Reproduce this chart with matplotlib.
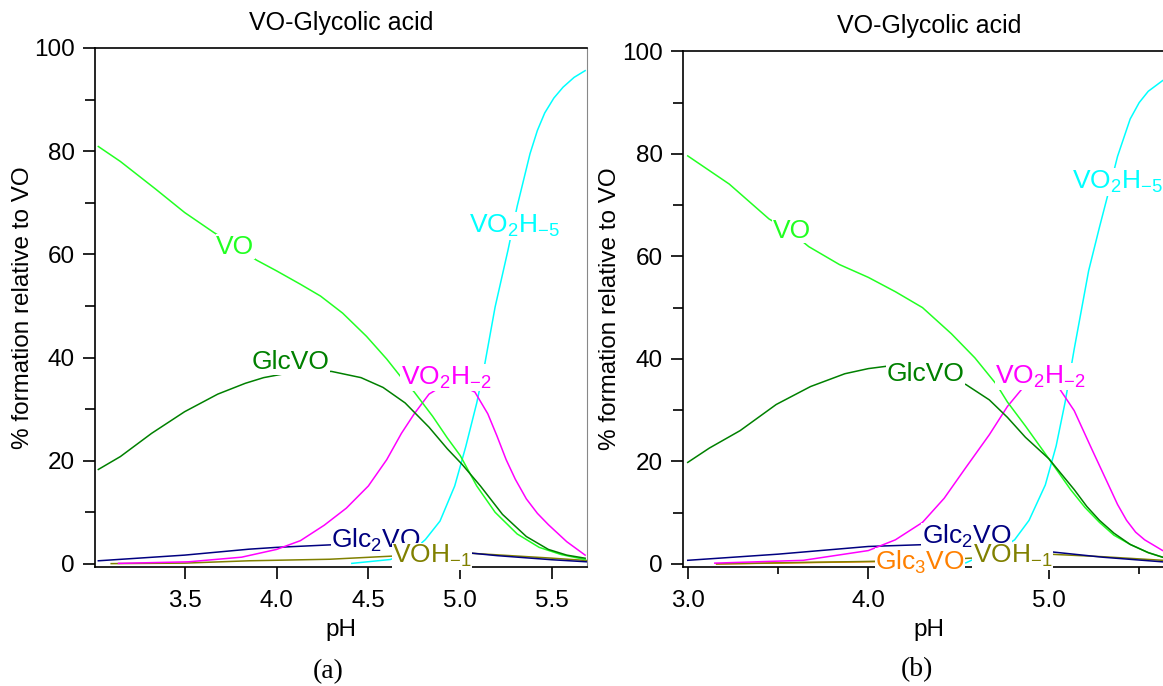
import numpy as np
import matplotlib
matplotlib.use('Agg')
import matplotlib.pyplot as plt
from matplotlib.ticker import MultipleLocator, FormatStrFormatter

plt.rcParams['font.family'] = ['Liberation Sans', 'DejaVu Sans']
plt.rcParams['mathtext.fontset'] = 'custom'
plt.rcParams['mathtext.rm'] = 'Liberation Sans'
plt.rcParams['mathtext.it'] = 'Liberation Sans'

C_VO = '#22ff22'
C_GLCVO = '#008000'
C_VO2H2 = '#ff00ff'
C_VO2H5 = '#00ffff'
C_GLC2VO = '#000080'
C_VOH1 = '#808000'
C_GLC3VO = '#ff8000'

# ---- panel (a) ----
a_vo_ph = [3.03, 3.15, 3.34, 3.5, 3.66, 3.78, 3.89, 4.0, 4.13, 4.24, 4.36, 4.49, 4.6, 4.68, 4.75, 4.85, 4.93, 5.0, 5.09, 5.19, 5.31, 5.43, 5.55, 5.68]
a_vo = [80.9, 78.0, 72.7, 68.1, 64.2, 61.6, 58.9, 56.8, 54.2, 51.9, 48.6, 44.1, 39.7, 36.1, 33.3, 28.6, 24.4, 21.0, 15.1, 10.0, 5.8, 3.2, 1.8, 0.85]

a_glcvo_ph = [3.03, 3.15, 3.32, 3.5, 3.68, 3.83, 3.93, 4.08, 4.2, 4.3, 4.46, 4.58, 4.7, 4.83, 4.93, 5.01, 5.11, 5.23, 5.36, 5.48, 5.58, 5.68]
a_glcvo = [18.3, 20.8, 25.3, 29.5, 32.9, 35.0, 36.1, 37.1, 37.4, 37.3, 36.1, 34.2, 31.2, 26.5, 22.3, 19.3, 15.1, 9.6, 5.3, 2.8, 1.7, 1.1]

a_vo2h2_ph = [3.14, 3.52, 3.81, 4.0, 4.13, 4.26, 4.38, 4.5, 4.6, 4.68, 4.75, 4.83, 4.95, 5.08, 5.15, 5.2, 5.25, 5.3, 5.36, 5.42, 5.48, 5.58, 5.68]
a_vo2h2 = [0.1, 0.4, 1.3, 2.8, 4.5, 7.5, 10.8, 15.1, 20.2, 25.3, 29.1, 32.9, 35.5, 33.3, 29.1, 24.8, 20.2, 16.4, 12.6, 9.8, 7.6, 4.3, 1.7]

a_vo2h5_ph = [4.41, 4.62, 4.75, 4.81, 4.89, 4.97, 5.03, 5.09, 5.13, 5.19, 5.26, 5.31, 5.38, 5.42, 5.46, 5.51, 5.56, 5.62, 5.68]
a_vo2h5 = [0.1, 0.85, 2.8, 4.7, 8.3, 15.1, 22.7, 31.2, 38.0, 49.8, 60.8, 69.3, 79.5, 84.0, 87.4, 90.3, 92.4, 94.3, 95.6]

a_glc2vo_ph = [3.03, 3.5, 3.85, 4.0, 4.3, 4.6, 5.0, 5.2, 5.5, 5.69]
a_glc2vo = [0.6, 1.7, 2.85, 3.2, 3.7, 3.2, 2.3, 1.6, 0.8, 0.4]

a_voh1_ph = [3.1, 3.5, 3.85, 4.29, 4.57, 4.8, 5.04, 5.48, 5.69]
a_voh1 = [0.05, 0.15, 0.6, 0.9, 1.4, 1.8, 2.1, 1.15, 0.65]

# ---- panel (b) ----
b_vo_ph = [3.0, 3.23, 3.45, 3.57, 3.67, 3.84, 4.0, 4.15, 4.3, 4.46, 4.59, 4.71, 4.77, 4.87, 5.0, 5.12, 5.2, 5.28, 5.36, 5.45, 5.55, 5.63, 5.7]
b_vo = [79.6, 74.1, 67.3, 64.8, 61.9, 58.4, 55.9, 53.1, 50.0, 44.9, 40.2, 35.0, 31.6, 26.9, 20.5, 14.5, 11.0, 8.1, 5.6, 3.8, 2.2, 1.3, 0.9]

b_glcvo_ph = [3.0, 3.12, 3.29, 3.49, 3.68, 3.87, 4.0, 4.11, 4.3, 4.54, 4.67, 4.77, 4.87, 5.0, 5.14, 5.21, 5.28, 5.36, 5.45, 5.55, 5.63, 5.7]
b_glcvo = [19.8, 22.6, 26.0, 31.1, 34.6, 37.1, 38.1, 38.6, 37.8, 35.0, 32.0, 28.6, 24.7, 20.5, 14.5, 11.2, 8.5, 6.0, 3.8, 2.2, 1.3, 0.9]

b_vo2h2_ph = [3.15, 3.64, 4.0, 4.15, 4.3, 4.42, 4.54, 4.67, 4.77, 4.85, 4.95, 5.06, 5.14, 5.24, 5.33, 5.38, 5.43, 5.48, 5.53, 5.63, 5.7]
b_vo2h2 = [0.15, 0.7, 2.6, 4.7, 8.1, 12.8, 18.8, 25.2, 30.7, 34.1, 35.8, 34.1, 29.9, 22.2, 15.4, 11.6, 8.5, 6.2, 4.7, 2.6, 1.8]

b_vo2h5_ph = [4.54, 4.58, 4.72, 4.81, 4.89, 4.98, 5.04, 5.09, 5.14, 5.22, 5.28, 5.33, 5.38, 5.45, 5.5, 5.55, 5.63, 5.7]
b_vo2h5 = [0.2, 0.85, 2.6, 4.7, 8.5, 15.4, 23.0, 31.6, 41.9, 57.2, 65.7, 72.5, 79.5, 86.8, 90.0, 92.2, 94.3, 95.5]

b_glc2vo_ph = [3.0, 3.5, 4.0, 4.3, 4.6, 5.0, 5.3, 5.63, 5.7]
b_glc2vo = [0.7, 1.9, 3.4, 3.75, 3.3, 2.4, 1.3, 0.4, 0.3]

b_glc3vo_ph = [3.16, 3.66, 4.04, 4.5]
b_glc3vo = [0.0, 0.25, 0.45, 0.9]

b_voh1_ph = [3.16, 3.66, 4.04, 4.5, 5.0, 5.3, 5.63, 5.7]
b_voh1 = [0.0, 0.3, 0.5, 1.0, 1.9, 1.4, 0.7, 0.6]

LABEL_SIZE = 17.5
TITLE_SIZE = 18
CURVE_LABEL_SIZE = 19


def curve_label(ax, x, y, text, color, ha='center', z=4):
    ax.text(x, y, text, color=color, fontsize=CURVE_LABEL_SIZE, ha=ha, va='center', zorder=z,
            bbox=dict(facecolor='white', edgecolor='none', pad=0.3))


def style_axes(ax):
    for s in ax.spines.values():
        s.set_linewidth(1.2)
    ax.spines['right'].set_color('#888888')
    ax.spines['right'].set_linewidth(0.8)
    ax.set_ylim(-0.6, 100)
    ax.yaxis.set_major_locator(MultipleLocator(20))
    ax.yaxis.set_minor_locator(MultipleLocator(10))
    ax.tick_params(axis='both', which='major', direction='out', length=8.5, width=1.2,
                   labelsize=LABEL_SIZE, top=False, right=False)
    ax.tick_params(axis='y', which='minor', direction='out', length=7, width=1.2, right=False)
    ax.tick_params(axis='x', which='minor', direction='out', length=5, width=1.2, top=False)
    ax.tick_params(axis='y', which='major', pad=6)
    ax.tick_params(axis='x', which='major', pad=8)
    ax.set_title('VO-Glycolic acid', fontsize=TITLE_SIZE, pad=13)
    ax.set_ylabel('% formation relative to VO', fontsize=LABEL_SIZE)
    ax.yaxis.set_label_coords(-0.125, 0.5)
    ax.set_xlabel('pH', fontsize=LABEL_SIZE)
    ax.xaxis.set_label_coords(0.5, -0.1)


fig = plt.figure(figsize=(11.63, 6.86), dpi=100)
ax1 = fig.add_axes([0.0817, 0.1735, 0.423, 0.7566])
ax2 = fig.add_axes([0.5873, 0.1735, 0.4233, 0.7517])

lw = 1.1

# panel (a)
ax1.plot(a_voh1_ph, a_voh1, color=C_VOH1, lw=lw)
ax1.plot(a_glc2vo_ph, a_glc2vo, color=C_GLC2VO, lw=lw)
ax1.plot(a_vo2h5_ph, a_vo2h5, color=C_VO2H5, lw=lw)
ax1.plot(a_vo2h2_ph, a_vo2h2, color=C_VO2H2, lw=lw)
ax1.plot(a_vo_ph, a_vo, color=C_VO, lw=lw)
ax1.plot(a_glcvo_ph, a_glcvo, color=C_GLCVO, lw=lw)
ax1.set_xlim(3.012, 5.69)
ax1.set_xticks([3.5, 4.0, 4.5, 5.0, 5.5])
ax1.xaxis.set_major_formatter(FormatStrFormatter('%.1f'))
style_axes(ax1)

curve_label(ax1, 3.776, 61.5, 'VO', C_VO)
curve_label(ax1, 4.076, 39.1, 'GlcVO', C_GLCVO)
curve_label(ax1, 4.924, 36.1, r'VO$_\mathregular{2}$H$_\mathregular{-2}$', C_VO2H2)
curve_label(ax1, 5.296, 65.5, r'VO$_\mathregular{2}$H$_\mathregular{-5}$', C_VO2H5)
curve_label(ax1, 4.541, 4.6, r'Glc$_\mathregular{2}$VO', C_GLC2VO, z=4)
curve_label(ax1, 4.847, 1.5, r'VOH$_\mathregular{-1}$', C_VOH1, z=5)

# panel (b)
ax2.plot(b_glc3vo_ph, b_glc3vo, color=C_GLC3VO, lw=lw)
ax2.plot(b_voh1_ph, b_voh1, color=C_VOH1, lw=lw)
ax2.plot(b_glc2vo_ph, b_glc2vo, color=C_GLC2VO, lw=lw)
ax2.plot(b_vo2h5_ph, b_vo2h5, color=C_VO2H5, lw=lw)
ax2.plot(b_vo2h2_ph, b_vo2h2, color=C_VO2H2, lw=lw)
ax2.plot(b_vo_ph, b_vo, color=C_VO, lw=lw)
ax2.plot(b_glcvo_ph, b_glcvo, color=C_GLCVO, lw=lw)
ax2.set_xlim(2.974, 5.7)
ax2.set_xticks([3.0, 4.0, 5.0])
ax2.xaxis.set_minor_locator(MultipleLocator(0.5))
ax2.xaxis.set_major_formatter(FormatStrFormatter('%.1f'))
style_axes(ax2)
ax2.spines['right'].set_visible(False)

curve_label(ax2, 3.576, 65.0, 'VO', C_VO)
curve_label(ax2, 4.317, 37.1, 'GlcVO', C_GLCVO)
curve_label(ax2, 4.955, 36.5, r'VO$_\mathregular{2}$H$_\mathregular{-2}$', C_VO2H2)
curve_label(ax2, 5.13, 74.5, r'VO$_\mathregular{2}$H$_\mathregular{-5}$', C_VO2H5, ha='left')
curve_label(ax2, 4.543, 5.3, r'Glc$_\mathregular{2}$VO', C_GLC2VO, z=4)
curve_label(ax2, 4.286, 0.3, r'Glc$_\mathregular{3}$VO', C_GLC3VO, z=5)
curve_label(ax2, 4.80, 1.5, r'VOH$_\mathregular{-1}$', C_VOH1, z=6)

fig.text(0.282, 0.021, '(a)', fontsize=20, ha='center', va='center', family='Liberation Serif')
fig.text(0.788, 0.024, '(b)', fontsize=20, ha='center', va='center', family='Liberation Serif')

fig.savefig('out.png', dpi=100)
